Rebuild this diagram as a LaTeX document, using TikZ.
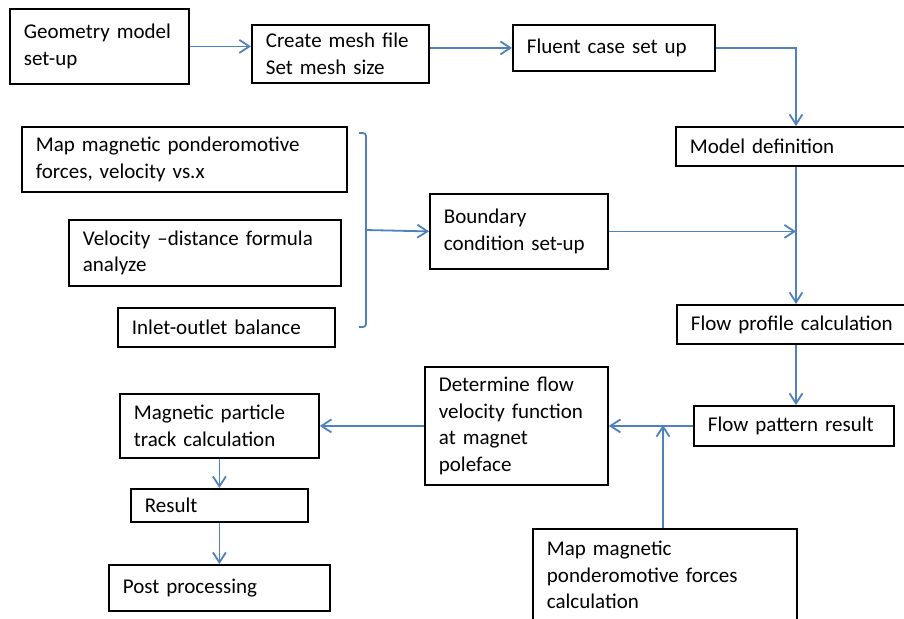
\documentclass[tikz,border=0pt]{standalone}
\usepackage{fontspec}
\setmainfont{Carlito}
\usetikzlibrary{positioning,calc,arrows.meta}
\definecolor{flowblue}{HTML}{4F81BD}
\tikzset{
    procflow/.style={
        x=0.5pt, y=-0.5pt,
        font=\fontsize{10.5}{13.3}\selectfont,
        % Stile per i blocchi (rettangolo, testo a sinistra)
        blk/.style args={##1/##2}{draw, rectangle, anchor=north west,
                          line width=0.9pt, align=left,
                          inner xsep=7pt, inner ysep=1pt,
                          minimum width=##1*0.5pt, minimum height=##2*0.5pt,
                          text width=##1*0.5pt-14pt},
        % Stile per le frecce (blu, punta aperta)
        link/.style={draw=flowblue, line width=0.9pt,
                     -{Straight Barb[length=5pt,width=6.5pt]}},
        % Stile per la parentesi
        brace/.style={draw=flowblue, line width=0.9pt, rounded corners=1.5pt}
    }
}
\begin{document}
\begin{tikzpicture}[procflow]
    \useasboundingbox (0,0) rectangle (904,618);
    \clip (0,0) rectangle (904,618);
    % riga superiore
    \node[blk={179/75}] (geo) at (9,8) {Geometry model\\set-up};
    \node[blk={177/58}] (mesh) at (251,24) {Create mesh file\\Set mesh size};
    \node[blk={202/46}] (fluent) at (512,24) {Fluent case set up};
    \node[blk={240/39}] (model) at (675,126) {Model definition};
    % blocchi a sinistra
    \node[blk={325/65}] (mapvel) at (21,126) {Map magnetic ponderomotive\\forces, velocity vs.x};
    \node[blk={272/66}] (veldist) at (68,219) {Velocity --distance formula\\analyze};
    \node[blk={217/39}] (inlet) at (117,307) {Inlet-outlet balance};
    \node[blk={178/75}] (bnd) at (429,193) {Boundary\\condition set-up};
    \node[blk={240/39}] (profile) at (676,304) {Flow profile calculation};
    \node[blk={200/40}] (pattern) at (693,405) {Flow pattern result};
    \node[blk={183/118}] (velfun) at (424,366) {Determine flow\\velocity function\\at magnet\\poleface};
    \node[blk={264/92}] (mapforce) at (532,528) {Map magnetic\\ponderomotive forces\\calculation};
    \node[blk={199/64}] (track) at (119,393) {Magnetic particle\\track calculation};
    \node[blk={177/33}] (result) at (130,488) {Result};
    \node[blk={221/46}] (post) at (108,564) {Post processing};
    % punti ausiliari
    \coordinate (trunk) at (796,0);
    \coordinate (brtop) at (359,133);
    \coordinate (brbot) at (359,327);
    \coordinate (brmid) at (366,230);
    \coordinate (join) at (663,425);
    % frecce
    \draw[link] (geo.east) -- (mesh.west |- geo.east);
    \draw[link] (mesh.east |- fluent.west) -- (fluent.west);
    \draw[link] (fluent.east) -| (trunk |- model.north);
    \draw[link] (trunk |- model.south) -- (trunk |- profile.north);
    \draw[link] (bnd.east) -- (trunk |- bnd.east);
    \draw[brace] (brtop) -- ++(7,0) |- (brbot);
    \draw[link] (brmid) -- (bnd.west);
    \draw[link] (trunk |- profile.south) -- (trunk |- pattern.north);
    \draw[link] (pattern.west) -- (velfun.east |- pattern.west);
    \draw[link] (join |- mapforce.north) -- (join);
    \draw[link] (velfun.west) -- (track.east |- velfun.west);
    \draw[link] (track.south) -- (result.north);
    \draw[link] (result.south) -- (post.north);
\end{tikzpicture}
\end{document}
